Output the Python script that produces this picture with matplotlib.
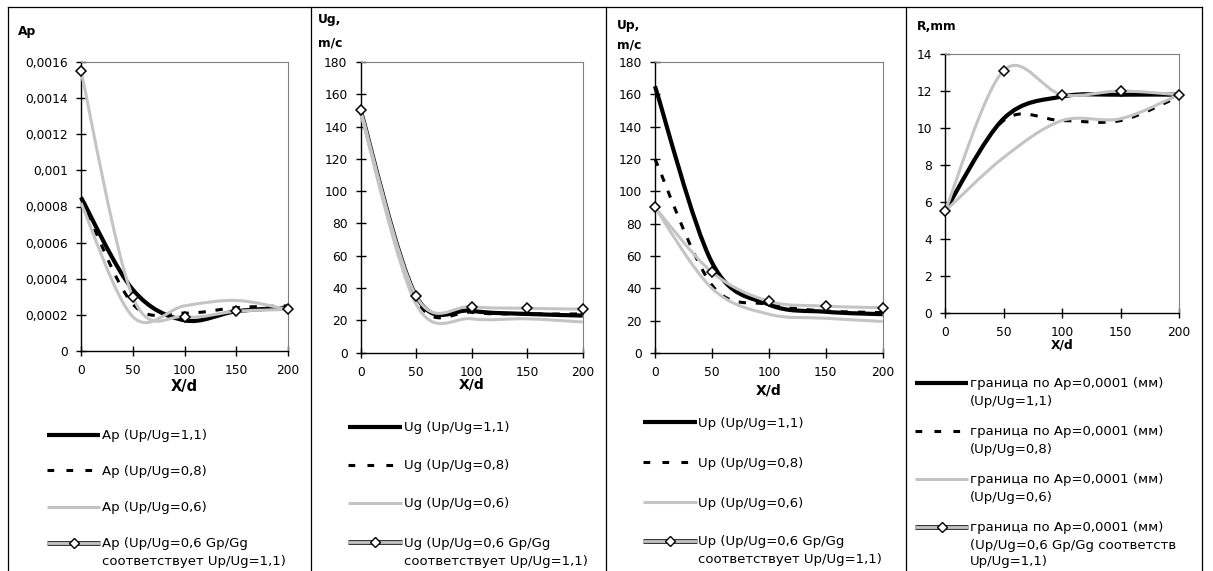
import numpy as np
import matplotlib
matplotlib.use("Agg")
import matplotlib.pyplot as plt
from matplotlib.path import Path
from matplotlib.patches import PathPatch
from matplotlib.lines import Line2D
import matplotlib.patheffects as pe

plt.rcParams['font.family'] = ['DejaVu Sans']

W, H = 1213, 571

# ---- data -------------------------------------------------------------
x_d = [0, 50, 100, 150, 200]
x_ticks = [0, 50, 100, 150, 200]

ap_11 = [0.00085, 0.00034, 0.00017, 0.00022, 0.00024]
ap_08 = [0.00085, 0.00026, 0.00021, 0.00024, 0.00025]
ap_06 = [0.00082, 0.00019, 0.00025, 0.00028, 0.00023]
ap_06g = [0.00155, 0.00030, 0.00019, 0.00022, 0.00023]

ug_11 = [150, 35, 26, 24, 23]
ug_08 = [150, 33, 25, 24, 24]
ug_06 = [148, 30, 21, 21, 19]
ug_06g = [150, 35, 28.5, 27.5, 27]

up_11 = [165, 56, 30, 25.5, 24]
up_08 = [120, 42, 30, 26, 25]
up_06 = [90, 40, 24, 21.5, 19.5]
up_06g = [90, 50, 32, 29, 28]

r_11 = [5.5, 10.5, 11.7, 11.8, 11.8]
r_08 = [5.5, 10.4, 10.4, 10.4, 11.7]
r_06 = [5.5, 8.4, 10.4, 10.5, 11.8]
r_06g = [5.5, 13.1, 11.8, 12.0, 11.8]

ap_ticks = [0, 0.0002, 0.0004, 0.0006, 0.0008, 0.001, 0.0012, 0.0014, 0.0016]
ap_tick_labels = ['0', '0,0002', '0,0004', '0,0006', '0,0008', '0,001',
                  '0,0012', '0,0014', '0,0016']
u_ticks = [0, 20, 40, 60, 80, 100, 120, 140, 160, 180]
r_ticks = [0, 2, 4, 6, 8, 10, 12, 14]

ap_legend = [['Ap (Up/Ug=1,1)'], ['Ap (Up/Ug=0,8)'], ['Ap (Up/Ug=0,6)'],
             ['Ap (Up/Ug=0,6 Gp/Gg', 'соответствует Up/Ug=1,1)']]
ug_legend = [['Ug (Up/Ug=1,1)'], ['Ug (Up/Ug=0,8)'], ['Ug (Up/Ug=0,6)'],
             ['Ug (Up/Ug=0,6 Gp/Gg', 'соответствует Up/Ug=1,1)']]
up_legend = [['Up (Up/Ug=1,1)'], ['Up (Up/Ug=0,8)'], ['Up (Up/Ug=0,6)'],
             ['Up (Up/Ug=0,6 Gp/Gg', 'соответствует Up/Ug=1,1)']]
r_legend = [['граница по Ap=0,0001 (мм)', '(Up/Ug=1,1)'],
            ['граница по Ap=0,0001 (мм)', '(Up/Ug=0,8)'],
            ['граница по Ap=0,0001 (мм)', '(Up/Ug=0,6)'],
            ['граница по Ap=0,0001 (мм)', '(Up/Ug=0,6 Gp/Gg соответств',
             'Up/Ug=1,1)']]

# ---- styles -------------------------------------------------------------
GRAY = '#c4c4c4'
STYLES = [
    dict(color='black', lw=3.0, ls='-'),
    dict(color='black', lw=2.2, ls=(0, (2.4, 3.2))),
    dict(color=GRAY, lw=2.2, ls='-'),
    dict(color=GRAY, lw=2.2, ls='-'),
]
LEGEND_DASH = (0, (2.2, 4.0))


def fx(x):
    return x / W


def fy(y):
    return 1 - y / H


def smooth_path(xs, ys):
    """Smoothed polyline (cubic Bezier through every point)."""
    pts = np.column_stack([xs, ys]).astype(float)
    n = len(pts)
    verts = [pts[0]]
    codes = [Path.MOVETO]
    for i in range(n - 1):
        p0 = pts[i - 1] if i > 0 else pts[i]
        p1 = pts[i]
        p2 = pts[i + 1]
        p3 = pts[i + 2] if i + 2 < n else pts[i + 1]
        c1 = p1 + (p2 - p0) / 6.0
        c2 = p2 - (p3 - p1) / 6.0
        verts += [c1, c2, p2]
        codes += [Path.CURVE4] * 3
    return Path(verts, codes)


fig = plt.figure(figsize=(W / 100, H / 100), dpi=100)

# frame lines around and between the panels
for xv in [8, 311, 605.5, 905.5, 1202]:
    fig.add_artist(Line2D([fx(xv), fx(xv)], [fy(7), 0], color='black', lw=0.9))
fig.add_artist(Line2D([fx(8), fx(1202)], [fy(7), fy(7)], color='black', lw=0.9))

panels = [
    dict(box=(81, 288, 62, 351), series=[ap_11, ap_08, ap_06, ap_06g],
         ylim=(0, 0.0016), yticks=ap_ticks, ylabels=ap_tick_labels,
         ytitle=[('Ap', 18, 31)], xlab_y=387, xlab_fs=10.5, legend=ap_legend,
         leg=dict(x0=47, x1=100, tx=102, ys=[435, 470, 507, 543], dy=17)),
    dict(box=(360.7, 582.7, 62, 352.7), series=[ug_11, ug_08, ug_06, ug_06g],
         ylim=(0, 180), yticks=u_ticks, ylabels=[str(v) for v in u_ticks],
         ytitle=[('Ug,', 318, 20), ('m/c', 318, 43)], xlab_y=384,
         xlab_fs=10, legend=ug_legend,
         leg=dict(x0=348, x1=402, tx=404, ys=[427, 465, 503, 542], dy=18)),
    dict(box=(655, 882.7, 62, 353), series=[up_11, up_08, up_06, up_06g],
         ylim=(0, 180), yticks=u_ticks, ylabels=[str(v) for v in u_ticks],
         ytitle=[('Up,', 617, 25), ('m/c', 617, 45)], xlab_y=390,
         xlab_fs=10, legend=up_legend,
         leg=dict(x0=643, x1=697, tx=698, ys=[422, 462, 502, 541], dy=18)),
    dict(box=(945, 1179, 54, 313), series=[r_11, r_08, r_06, r_06g],
         ylim=(0, 14), yticks=r_ticks, ylabels=[str(v) for v in r_ticks],
         ytitle=[('R,mm', 917, 27)], xlab_y=345, xlab_fs=8.8, legend=r_legend,
         leg=dict(x0=915, x1=968, tx=970, ys=[383, 431, 479, 527], dy=17)),
]

for p in panels:
    l, r, t, b = p['box']
    ax = fig.add_axes([fx(l), fy(b), (r - l) / W, (b - t) / H])
    ax.set_xlim(0, 200)
    ax.set_ylim(*p['ylim'])
    for s in ['top', 'right']:
        ax.spines[s].set_color('#808080')
        ax.spines[s].set_linewidth(0.8)
    for s in ['left', 'bottom']:
        ax.spines[s].set_color('black')
        ax.spines[s].set_linewidth(1.0)
    ax.set_xticks(x_ticks)
    ax.set_xticklabels([str(v) for v in x_ticks])
    ax.set_yticks(p['yticks'])
    ax.set_yticklabels(p['ylabels'])
    ax.tick_params(direction='inout', length=7, width=1.0, colors='black',
                   labelsize=8.8, pad=6)

    for vals, st in zip(p['series'], STYLES):
        patch = PathPatch(smooth_path(x_d, vals), facecolor='none',
                          edgecolor=st['color'], lw=st['lw'],
                          linestyle=st['ls'], capstyle='butt',
                          joinstyle='round', clip_on=False, zorder=3)
        ax.add_patch(patch)
    ax.plot(x_d, p['series'][3], linestyle='none', marker='D', ms=5.5,
            mfc='white', mec='black', mew=1.1, zorder=5, clip_on=False)

    # axis titles
    for txt, tx, ty in p['ytitle']:
        fig.text(fx(tx), fy(ty), txt, fontsize=8.8, fontweight='bold',
                 ha='left', va='center')
    fig.text(fx((l + r) / 2), fy(p['xlab_y']), 'X/d', fontsize=p['xlab_fs'],
             fontweight='bold', ha='center', va='center')

    # legend
    lg = p['leg']
    for k, (lines, st) in enumerate(zip(p['legend'], STYLES)):
        y0 = lg['ys'][k]
        effects = None
        ls = st['ls']
        lw = st['lw']
        if k == 1:
            ls = LEGEND_DASH
        if k == 3:
            lw = 2.0
            effects = [pe.Stroke(linewidth=3.6, foreground='#3a3a3a'), pe.Normal()]
        ln = Line2D([fx(lg['x0']), fx(lg['x1'])], [fy(y0), fy(y0)],
                    color=st['color'], lw=lw, linestyle=ls,
                    solid_capstyle='butt', dash_capstyle='butt',
                    path_effects=effects)
        fig.add_artist(ln)
        if k == 3:
            fig.add_artist(Line2D([fx((lg['x0'] + lg['x1']) / 2)], [fy(y0)],
                                  linestyle='none', marker='D', ms=5,
                                  mfc='white', mec='black', mew=1.0))
        for j, line in enumerate(lines):
            fig.text(fx(lg['tx']), fy(y0 + 1 + j * lg['dy']), line,
                     fontsize=9.5, ha='left', va='center')

fig.savefig('out.png', dpi=100)
